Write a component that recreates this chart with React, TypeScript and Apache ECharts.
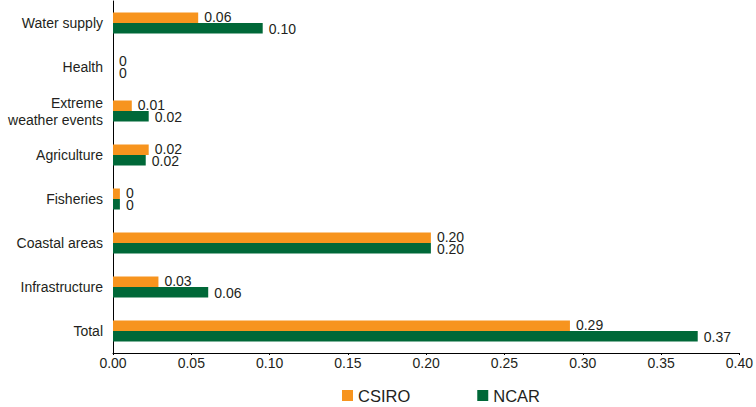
import React, { useEffect, useRef } from "react";
import * as echarts from "echarts";

const categories = [
  "Water supply",
  "Health",
  "Extreme\nweather events",
  "Agriculture",
  "Fisheries",
  "Coastal areas",
  "Infrastructure",
  "Total",
];
const csiroValues = [0.0544, 0, 0.012, 0.0228, 0.0044, 0.203, 0.029, 0.2918];
const ncarValues = [0.0956, 0, 0.0228, 0.0209, 0.0044, 0.203, 0.0608, 0.3734];
const csiroLabels = ["0.06", "0", "0.01", "0.02", "0", "0.20", "0.03", "0.29"];
const ncarLabels = ["0.10", "0", "0.02", "0.02", "0", "0.20", "0.06", "0.37"];
const xTicks = { min: 0, max: 0.4, interval: 0.05 };

const FONT = "'Liberation Sans', Arial, sans-serif";
const TEXT = "#231f20";

export default function App() {
  const ref = useRef<HTMLDivElement>(null);
  useEffect(() => {
    if (!ref.current) return;
    const chart = echarts.init(ref.current, null, { renderer: "svg" });
    const mkLabel = (labels: string[], dy: number) => ({
      show: true,
      position: "right",
      distance: 6,
      offset: [0, dy],
      color: TEXT,
      fontSize: 14,
      fontFamily: FONT,
      formatter: (p: any) => labels[p.dataIndex],
    });
    chart.setOption({
      animation: false,
      textStyle: { fontFamily: FONT },
      grid: { left: 113, right: 10, top: 1, bottom: 54, containLabel: false },
      legend: {
        left: 337,
        top: 382,
        itemWidth: 11,
        itemHeight: 11,
        itemGap: 67,
        icon: "rect",
        textStyle: { fontSize: 16.5, color: TEXT, fontFamily: FONT },
        data: ["CSIRO", "NCAR"],
      },
      xAxis: {
        type: "value",
        min: xTicks.min,
        max: xTicks.max,
        interval: xTicks.interval,
        axisLine: { show: true, lineStyle: { color: "#000", width: 1 } },
        axisTick: { show: true, length: 2, lineStyle: { color: "#000" } },
        splitLine: { show: false },
        axisLabel: {
          color: TEXT,
          fontSize: 14,
          fontFamily: FONT,
          margin: 3,
          formatter: (v: number) => v.toFixed(2),
        },
      },
      yAxis: {
        type: "category",
        inverse: true,
        data: categories,
        axisLine: { show: true, lineStyle: { color: "#000", width: 1 } },
        axisTick: { show: false },
        axisLabel: {
          color: TEXT,
          fontSize: 14,
          fontFamily: FONT,
          margin: 10,
          lineHeight: 17,
          align: "right",
        },
      },
      series: [
        {
          name: "CSIRO",
          type: "bar",
          data: csiroValues,
          barWidth: 10.5,
          barGap: "0%",
          itemStyle: { color: "#F7941E" },
          label: mkLabel(csiroLabels, -1),
        },
        {
          name: "NCAR",
          type: "bar",
          data: ncarValues,
          barWidth: 10.5,
          barGap: "0%",
          itemStyle: { color: "#006838" },
          label: mkLabel(ncarLabels, 1),
        },
      ],
    });
    return () => chart.dispose();
  }, []);
  return (
    <div
      ref={ref}
      style={{ position: "fixed", left: 0, top: 0, width: 756, height: 407, background: "#fff" }}
    />
  );
}
